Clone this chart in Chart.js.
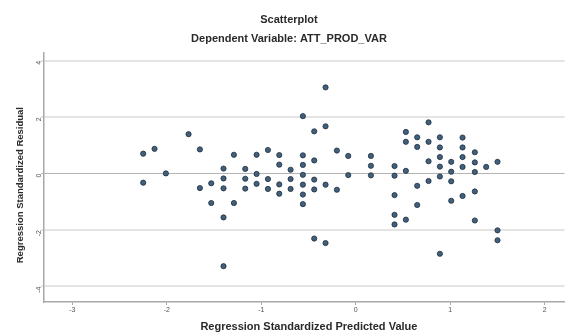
<!DOCTYPE html>
<html>
<head>
<meta charset="utf-8">
<script src="https://cdn.jsdelivr.net/npm/chart.js@4/dist/chart.umd.min.js"></script>
<style>
  html, body { margin: 0; padding: 0; background: #fff; }
  #wrap { width: 568px; height: 336px; }
</style>
</head>
<body>
<div id="wrap"><canvas id="scatter"></canvas></div>
<script>
// Regression Standardized Predicted Value (x) and Standardized Residual (y)
const predicted = [
  -2.25, -2.13, -2.25, -2.01, -1.77, -1.65, -1.65, -1.53, -1.53,
  -1.40, -1.40, -1.40, -1.40, -1.40, -1.29, -1.29,
  -1.17, -1.17, -1.17, -1.05, -1.05, -1.05, -0.93, -0.93, -0.93,
  -0.81, -0.81, -0.81, -0.81, -0.69, -0.69, -0.69,
  -0.56, -0.56, -0.56, -0.56, -0.56, -0.56, -0.56,
  -0.44, -0.44, -0.44, -0.44, -0.44,
  -0.32, -0.32, -0.32, -0.32, -0.20, -0.20, -0.08, -0.08,
  0.16, 0.16, 0.16,
  0.41, 0.41, 0.41, 0.41, 0.41,
  0.53, 0.53, 0.53, 0.53,
  0.65, 0.65, 0.65, 0.65,
  0.77, 0.77, 0.77, 0.77,
  0.89, 0.89, 0.89, 0.89, 0.89, 0.89,
  1.01, 1.01, 1.01, 1.01,
  1.13, 1.13, 1.13, 1.13, 1.13,
  1.26, 1.26, 1.26, 1.26, 1.26,
  1.38, 1.50, 1.50, 1.50
];
const residual = [
  0.71, 0.88, -0.32, 0.01, 1.40, 0.86, -0.51, -0.34, -1.04,
  0.18, -0.17, -0.52, -1.55, -3.28, 0.67, -1.04,
  0.17, -0.18, -0.53, 0.67, -0.01, -0.36, 0.84, -0.19, -0.54,
  0.66, 0.32, -0.38, -0.71, 0.14, -0.19, -0.54,
  2.04, 0.65, 0.31, -0.04, -0.39, -0.74, -1.08,
  1.50, 0.47, -0.21, -0.56, -2.30,
  3.06, 1.68, -0.39, -2.46, 0.82, -0.57, 0.63, -0.05,
  0.63, 0.28, -0.06,
  0.27, -0.07, -0.76, -1.46, -1.80,
  1.48, 1.13, 0.10, -1.63,
  1.29, 0.95, -0.43, -1.11,
  1.82, 1.13, 0.44, -0.26,
  1.29, 0.93, 0.59, 0.25, -0.10, -2.84,
  0.42, 0.07, -0.27, -0.96,
  1.28, 0.93, 0.59, 0.24, -0.79,
  0.76, 0.40, 0.06, -0.63, -1.66,
  0.24, 0.42, -2.01, -2.36
];
const xTicks = [-3, -2, -1, 0, 1, 2];
const yTicks = [-4, -2, 0, 2, 4];

const points = predicted.map(function(x, i) {
  return { x: x, y: residual[i] };
});

const font = '"Liberation Sans", Arial, sans-serif';

// the header lines sit a little right of the canvas centre
const shiftTitles = {
  id: 'shiftTitles',
  afterLayout: function(chart) {
    chart.boxes.forEach(function(box) {
      if (box.options && box.options.text !== undefined && box.position === 'top') {
        box.left += 13;
      }
    });
  }
};

new Chart(document.getElementById('scatter'), {
  type: 'scatter',
  data: {
    datasets: [{
      data: points,
      backgroundColor: '#41607e',
      borderColor: '#1f2d3b',
      borderWidth: 0.8,
      pointRadius: 2.6,
      pointHoverRadius: 2.6
    }]
  },
  options: {
    responsive: true,
    maintainAspectRatio: false,
    animation: false,
    layout: { padding: { left: 0, right: 3, top: 0, bottom: 0 } },
    plugins: {
      legend: { display: false },
      tooltip: { enabled: false },
      title: {
        display: true,
        text: 'Scatterplot',
        color: '#2a2a2a',
        font: { family: font, size: 11, weight: 'bold', lineHeight: 1.2 },
        padding: { top: 13, bottom: 0 }
      },
      subtitle: {
        display: true,
        text: 'Dependent Variable: ATT_PROD_VAR',
        color: '#2a2a2a',
        font: { family: font, size: 11, weight: 'bold', lineHeight: 1.2 },
        padding: { top: 6, bottom: 7 }
      }
    },
    scales: {
      x: {
        type: 'linear',
        min: -3.3,
        max: 2.21,
        afterFit: function(scale) { scale.height = 34; },
        afterBuildTicks: function(scale) {
          scale.ticks = xTicks.map(function(v) { return { value: v }; });
        },
        border: { display: true, color: '#a8a8a8', width: 1.5 },
        grid: { display: true, drawOnChartArea: false, drawTicks: true, tickLength: 3, color: '#a8a8a8' },
        ticks: {
          color: '#555',
          padding: 1,
          font: { family: font, size: 7 }
        },
        title: {
          display: true,
          text: '   Regression Standardized Predicted Value',
          color: '#2a2a2a',
          font: { family: font, size: 11, weight: 'bold', lineHeight: 1.2 },
          padding: { top: 0, bottom: 2 }
        }
      },
      y: {
        type: 'linear',
        min: -4.55,
        max: 4.3,
        afterFit: function(scale) { scale.width = 44; },
        afterBuildTicks: function(scale) {
          scale.ticks = yTicks.map(function(v) { return { value: v }; });
        },
        border: { display: true, color: '#a8a8a8', width: 1.5 },
        grid: {
          drawTicks: true,
          tickLength: 3,
          color: function(ctx) { return ctx.tick && ctx.tick.value === 0 ? '#b4b4b4' : '#e4e4e4'; },
          lineWidth: function(ctx) { return ctx.tick && ctx.tick.value === 0 ? 1 : 2; }
        },
        ticks: {
          color: '#555',
          padding: 2,
          minRotation: 90,
          maxRotation: 90,
          font: { family: font, size: 7 }
        },
        title: {
          display: true,
          text: 'Regression Standardized Residual      ',
          color: '#2a2a2a',
          font: { family: font, size: 9.5, weight: 'bold', lineHeight: 1.2 },
          padding: { top: 15, bottom: 0 }
        }
      }
    }
  },
  plugins: [shiftTitles]
});
</script>
</body>
</html>
